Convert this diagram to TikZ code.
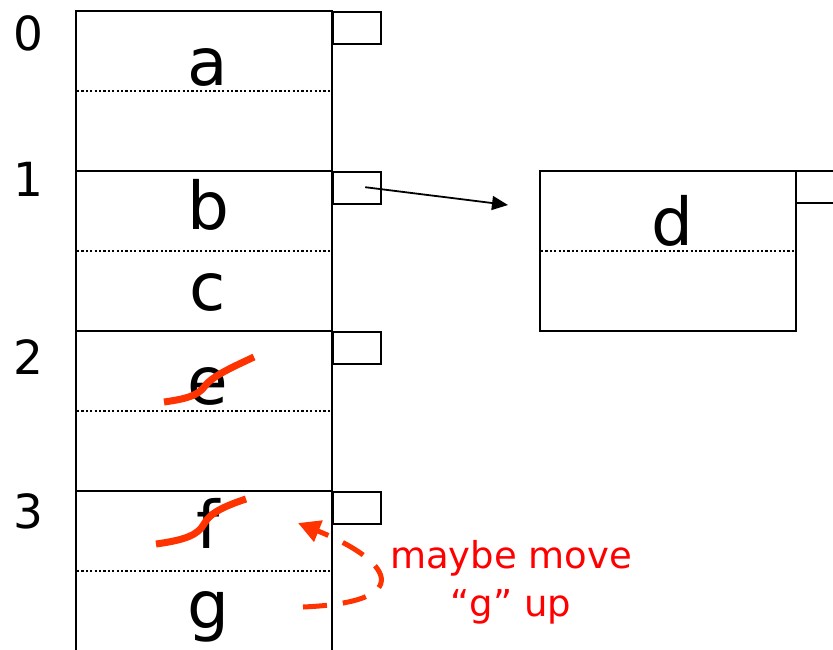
\documentclass[tikz,border=0pt]{standalone}
\usepackage{fontspec}
\setmainfont{DejaVu Sans}
\usetikzlibrary{arrows.meta,calc}
\definecolor{strike}{RGB}{255,51,0}
\begin{document}
\begin{tikzpicture}[x=1pt,y=-1pt,
  wall/.style={line width=2.4pt,line cap=rect},
  sep/.style={line width=2.2pt,dash pattern=on 2.2pt off 2.2pt},
  ptr/.style={draw,line width=2.4pt,minimum width=48pt,minimum height=32pt,inner sep=0pt,anchor=north west},
  letter/.style={anchor=base,inner sep=0pt,font=\fontsize{66}{72}\selectfont},
  idx/.style={anchor=base,inner sep=0pt,font=\fontsize{47}{50}\selectfont},
  strk/.style={strike,line width=7pt},
  note/.style={red,font=\fontsize{37}{48}\selectfont,align=center,inner sep=0pt}]
\useasboundingbox (0,0) rectangle (833,649);
% main column
\draw[wall] (76,11) -- (76,649);
\draw[wall] (332,11) -- (332,649);
\foreach \y in {11,171,331,491}{\draw[wall] (76,\y) -- (332,\y);}
\foreach \y in {91,251,411,571}{\draw[sep] (77,\y) -- (331,\y);}
% pointer boxes
\node[ptr] (p0) at (332,11) {};
\node[ptr] (p1) at (332,171) {};
\node[ptr] (p2) at (332,331) {};
\node[ptr] (p3) at (332,491) {};
% index labels
\node[idx] (i0) at (28,50) {0};
\node[idx] (i1) at (28,196) {1};
\node[idx] (i2) at (28,374) {2};
\node[idx] (i3) at (28,528) {3};
% letters
\node[letter] (a) at (208,85) {a};
\node[letter] (b) at (208,229) {b};
\node[letter] (c) at (208,310) {c};
\node[letter] (e) at (208,404) {e};
\node[letter] (f) at (208,548) {f};
\node[letter] (g) at (208,628) {g};
% overflow bucket
\draw[wall] (540,171) rectangle (796,331);
\draw[sep] (541,251) -- (795,251);
\draw[wall] (796,171) -- (840,171);
\draw[wall] (796,203) -- (840,203);
\node[letter] (d) at (672,245) {d};
% pointer arrow
\coordinate (ps) at ($(p1.center)+(8,-1)$);
\coordinate (pe) at (508,205);
\draw[line width=1.8pt,-{Triangle[length=16pt,width=14pt]}] (ps) -- (pe);
% strikes
\draw[strk] (164,402) .. controls (185,399) and (198,396) .. (205,386) .. controls (212,376) and (235,366) .. (254,357);
\draw[strk] (156,544) .. controls (185,540) and (198,535) .. (204,524) .. controls (210,512) and (228,505) .. (246,499);
% dashed move arrow
\coordinate (gs) at (303,607);
\coordinate (ft) at (298,523);
\draw[strike,line width=5pt,dash pattern=on 24pt off 16pt,-{Triangle[length=22pt,width=22pt]}]
  (gs) .. controls (420,602) and (390,560) .. (ft);
\node[note] (n) at (511,582) {maybe move\\“g” up};
\end{tikzpicture}
\end{document}
